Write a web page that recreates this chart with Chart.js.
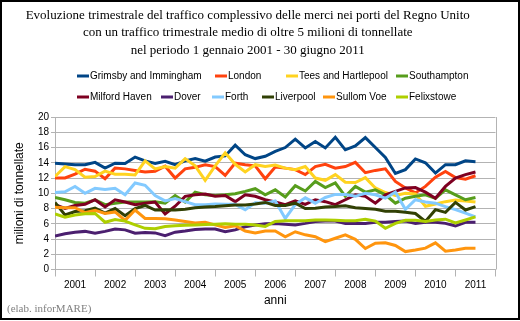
<!DOCTYPE html>
<html lang="it">
<head>
<meta charset="UTF-8">
<title>Traffico merci nei porti del Regno Unito</title>
<script src="https://cdn.jsdelivr.net/npm/chart.js"></script>
<style>
  html, body { margin: 0; padding: 0; background: #fff; }
</style>
</head>
<body>
<canvas id="chart" width="520" height="321"></canvas>
<script>
  // anni sull'asse x (una etichetta ogni 4 trimestri)
  const years = ['2001', '2002', '2003', '2004', '2005', '2006', '2007', '2008', '2009', '2010', '2011'];

  const ports = ['Grimsby and Immingham', 'London', 'Tees and Hartlepool', 'Southampton',
    'Milford Haven', 'Dover', 'Forth', 'Liverpool', 'Sullom Voe', 'Felixstowe'];

  // milioni di tonnellate per trimestre, dal 1° trimestre 2001
  const grimsby = [13.95, 13.85, 13.75, 13.75, 14.05, 13.3, 13.95, 13.9, 14.75, 14.25, 13.9, 14.2, 13.75, 14.25, 14.55, 14.2, 14.75, 14.9, 16.3, 15.05, 14.55, 14.85, 15.5, 16.0, 17.1, 15.95, 16.8, 15.95, 17.35, 15.7, 16.2, 17.3, 16.0, 14.7, 12.6, 13.1, 14.5, 14.0, 12.65, 13.75, 13.75, 14.25, 14.15];
  const london = [12.0, 12.0, 12.5, 13.15, 12.9, 11.9, 13.3, 13.2, 13.0, 12.8, 12.9, 13.55, 12.0, 13.2, 13.4, 13.75, 13.5, 12.35, 13.95, 13.75, 13.6, 11.9, 13.45, 13.3, 13.1, 12.45, 13.5, 13.8, 13.3, 13.5, 14.05, 12.7, 13.0, 13.2, 11.55, 10.7, 10.05, 10.9, 12.1, 12.85, 12.05, 11.85, 12.3];
  const tees = [12.2, 13.5, 13.1, 12.1, 12.2, 12.9, 12.5, 12.5, 12.4, 14.25, 13.2, 13.5, 13.3, 14.55, 13.6, 11.7, 13.6, 15.3, 13.8, 12.8, 13.75, 13.5, 13.7, 13.3, 13.1, 13.5, 12.0, 11.7, 12.45, 11.45, 11.4, 12.05, 10.7, 10.1, 9.7, 10.0, 9.9, 8.3, 8.6, 8.9, 9.1, 9.0, 8.85];
  const southampton = [9.45, 9.15, 8.8, 8.7, 9.15, 8.5, 8.7, 8.85, 8.85, 8.85, 8.9, 8.7, 9.7, 8.85, 10.15, 9.8, 9.7, 9.8, 9.95, 10.25, 10.6, 9.8, 10.45, 9.5, 11.0, 10.3, 11.55, 10.75, 11.35, 9.6, 10.9, 10.15, 10.45, 9.8, 8.7, 9.35, 9.6, 9.8, 9.35, 10.45, 9.8, 9.15, 9.45];
  const milford = [8.5, 8.0, 8.4, 8.55, 9.15, 8.2, 9.15, 8.85, 8.5, 8.7, 8.85, 7.3, 8.3, 9.6, 9.8, 9.9, 9.6, 9.7, 8.9, 9.8, 9.6, 9.15, 8.85, 8.5, 9.0, 8.55, 9.15, 8.9, 8.5, 9.15, 9.8, 9.6, 8.7, 9.8, 10.25, 10.7, 10.75, 10.15, 9.35, 10.9, 12.0, 12.45, 12.8];
  const dover = [4.4, 4.7, 4.9, 5.0, 4.75, 5.0, 5.3, 5.2, 4.75, 4.85, 4.8, 4.45, 4.9, 5.05, 5.25, 5.3, 5.3, 4.95, 5.2, 5.6, 5.85, 6.0, 6.05, 5.95, 5.85, 6.05, 6.3, 6.35, 6.35, 6.05, 6.05, 6.05, 6.2, 6.2, 6.3, 6.35, 6.05, 6.2, 6.2, 6.05, 5.7, 6.2, 6.2];
  const forth = [10.1, 10.2, 10.9, 10.0, 10.65, 10.5, 10.65, 9.8, 11.35, 11.05, 9.7, 9.0, 9.3, 8.9, 8.5, 8.5, 8.6, 8.55, 8.55, 7.85, 8.75, 8.7, 9.0, 6.7, 8.5, 9.4, 8.7, 9.45, 9.85, 9.85, 9.6, 10.0, 9.8, 9.35, 10.15, 7.9, 9.15, 8.85, 8.7, 8.25, 7.85, 7.4, 6.9];
  const liverpool = [8.8, 7.15, 7.6, 7.7, 8.05, 7.4, 8.0, 7.05, 8.0, 8.4, 7.8, 7.85, 7.8, 7.9, 8.1, 8.2, 8.25, 8.35, 8.45, 8.45, 8.6, 8.8, 8.4, 8.4, 8.7, 8.0, 8.05, 8.2, 8.25, 8.35, 8.1, 8.0, 7.9, 7.65, 7.65, 7.5, 7.35, 6.3, 7.85, 7.5, 8.8, 7.8, 8.25];
  const sullomVoe = [8.15, 8.1, 8.1, 7.45, 7.75, 7.35, 7.55, 6.45, 7.8, 6.7, 6.7, 6.65, 6.5, 6.3, 6.1, 6.2, 5.85, 5.5, 5.75, 5.05, 4.8, 5.05, 5.05, 4.3, 4.95, 4.55, 4.3, 3.65, 4.1, 4.55, 3.95, 2.75, 3.45, 3.5, 3.15, 2.35, 2.55, 2.8, 3.5, 2.4, 2.55, 2.8, 2.8];
  const felixstowe = [7.3, 6.85, 7.15, 7.3, 7.35, 6.2, 6.55, 6.35, 5.85, 5.4, 5.35, 5.65, 5.75, 5.8, 5.85, 5.9, 5.95, 6.0, 5.95, 5.95, 5.85, 5.65, 6.3, 6.4, 6.4, 6.4, 6.5, 6.5, 6.45, 6.4, 6.4, 6.6, 6.35, 5.4, 6.05, 6.45, 6.45, 6.3, 6.5, 6.6, 6.1, 6.5, 6.9];

  const series = [grimsby, london, tees, southampton, milford, dover, forth, liverpool, sullomVoe, felixstowe];
  const colors = ['#004586', '#ff420e', '#ffd320', '#579d1c', '#7e0021', '#4b1f6f', '#83caff', '#314004', '#ff950e', '#aecf00'];

  // posizione delle voci di legenda (due righe, come nell'originale)
  const legendPos = [[77, 76], [215, 76], [286, 76], [396, 76],
    [77, 97], [161, 97], [212, 97], [262, 97], [323, 97], [396, 97]];

  const gridColor = '#b3b3b3';
  const sans = '"Liberation Sans", Arial, sans-serif';
  const serif = '"Liberation Serif", "Times New Roman", serif';

  const extras = {
    id: 'extras',
    beforeDraw(chart) {
      const ctx = chart.ctx;
      ctx.save();
      ctx.fillStyle = '#fff';
      ctx.fillRect(0, 0, chart.width, chart.height);
      ctx.restore();
    },
    afterDraw(chart) {
      const ctx = chart.ctx;
      const area = chart.chartArea;
      ctx.save();
      // bordo destro dell'area del grafico
      ctx.strokeStyle = gridColor;
      ctx.lineWidth = 1;
      const xr = Math.round(area.right) + 0.5;
      ctx.beginPath();
      ctx.moveTo(xr, area.top);
      ctx.lineTo(xr, area.bottom);
      ctx.stroke();

      // legenda
      ctx.font = '10px ' + sans;
      ctx.textBaseline = 'middle';
      ports.forEach((name, k) => {
        const [x, y] = legendPos[k];
        ctx.strokeStyle = colors[k];
        ctx.lineWidth = 3;
        ctx.beginPath();
        ctx.moveTo(x, y);
        ctx.lineTo(x + 12, y);
        ctx.stroke();
        ctx.fillStyle = '#000';
        ctx.fillText(name, x + 13, y + 0.5);
      });

      // fonte
      ctx.font = '11px ' + serif;
      ctx.fillStyle = '#808080';
      ctx.fillText('(elab. inforMARE)', 7, 309);

      // cornice
      ctx.strokeStyle = '#000';
      ctx.lineWidth = 2;
      ctx.strokeRect(1, 1, 518, 318);
      ctx.restore();
    }
  };

  new Chart(document.getElementById('chart'), {
    type: 'line',
    data: {
      datasets: series.map((values, k) => ({
        label: ports[k],
        data: values.map((v, i) => ({ x: i, y: v })),
        borderColor: colors[k],
        backgroundColor: colors[k],
        borderWidth: 3,
        pointRadius: 0,
        tension: 0,
        order: series.length - k
      }))
    },
    options: {
      responsive: false,
      animation: false,
      layout: { padding: { left: 0, right: 24.5, top: 0, bottom: 0 } },
      plugins: {
        legend: { display: false },
        tooltip: { enabled: false },
        title: {
          display: true,
          text: [
            'Evoluzione trimestrale del traffico complessivo delle merci nei porti del Regno Unito',
            'con un traffico trimestrale medio di oltre 5 milioni di tonnellate',
            'nel periodo 1 gennaio 2001 - 30 giugno 2011'
          ],
          color: '#000',
          font: { family: serif, size: 13, weight: 'normal', lineHeight: 1.36 },
          padding: { top: 6.5, bottom: 57.5 }
        }
      },
      scales: {
        x: {
          type: 'linear',
          min: 0,
          max: years.length * 4,
          afterBuildTicks(scale) {
            const ticks = [];
            for (let q = 0; q <= years.length * 4; q += 2) ticks.push({ value: q });
            scale.ticks = ticks;
          },
          afterFit(scale) { scale.height = 51.5; },
          grid: {
            drawOnChartArea: false,
            drawTicks: true,
            tickLength: 7,
            color: ctx => (ctx.tick && ctx.tick.value % 4 === 0) ? gridColor : 'rgba(0,0,0,0)'
          },
          border: { display: true, color: gridColor },
          ticks: {
            autoSkip: false,
            maxRotation: 0,
            padding: 3,
            color: '#000',
            font: { family: sans, size: 10 },
            callback: value => value % 4 === 2 ? years[(value - 2) / 4] : ''
          },
          title: {
            display: true,
            text: 'anni',
            color: '#000',
            font: { family: sans, size: 12 },
            padding: { top: 0, bottom: 12.8 }
          }
        },
        y: {
          min: 0,
          max: 20,
          afterFit(scale) { scale.width = 55; },
          grid: { color: gridColor, tickLength: 4 },
          border: { color: gridColor },
          ticks: {
            stepSize: 2,
            padding: 2,
            color: '#000',
            font: { family: sans, size: 10 }
          },
          title: {
            display: true,
            text: 'milioni di tonnellate',
            color: '#000',
            font: { family: sans, size: 12 },
            padding: { top: 12, bottom: 0 }
          }
        }
      }
    },
    plugins: [extras]
  });
</script>
</body>
</html>
